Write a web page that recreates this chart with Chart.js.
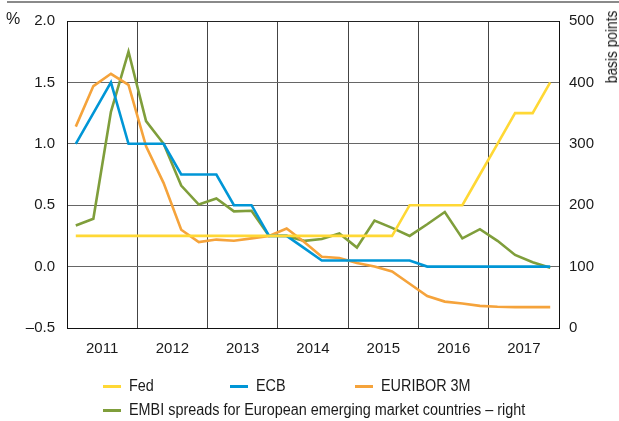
<!DOCTYPE html>
<html>
<head>
<meta charset="utf-8">
<script src="https://cdn.jsdelivr.net/npm/chart.js@4/dist/chart.umd.min.js"></script>
<style>
  html, body { margin: 0; padding: 0; background: #fff; }
  #wrap { position: relative; width: 619px; height: 421px; font-family: 'Liberation Sans Narrow', 'Arial Narrow', 'Liberation Sans', sans-serif; color: #1a1a1a; }
  #c { position: absolute; left: 0; top: 0; }
  #rule { position: absolute; left: 7px; right: 0; top: 1px; height: 2px; background: #8a8a8a; }
  #pct { position: absolute; left: 6px; top: 10px; font-size: 16px; }
  #bp { position: absolute; left: 612px; top: 47px; font-size: 16px; transform: translate(-50%, -50%) rotate(-90deg) scaleX(0.86); white-space: nowrap; }
  .lg { position: absolute; font-size: 16px; white-space: nowrap; display: flex; align-items: center; }
  .lg span.sw { display: inline-block; width: 18px; height: 3px; margin-right: 8px; flex: none; }
  .lg span.tx { display: inline-block; transform: scaleX(0.9); transform-origin: left center; }
</style>
</head>
<body>
<div id="wrap">
  <canvas id="c" width="619" height="421"></canvas>
  <div id="rule"></div>
  <div id="pct">%</div>
  <div id="bp">basis points</div>
</div>
<script>
// ---- data (quarterly, 2011 Q1 .. 2017 Q4) ----
const years = ['2011', '2012', '2013', '2014', '2015', '2016', '2017'];
const seriesNames = ['Fed', 'ECB', 'EURIBOR 3M', 'EMBI spreads for European emerging market countries – right'];
const fed = [0.25, 0.25, 0.25, 0.25, 0.25, 0.25, 0.25, 0.25, 0.25, 0.25, 0.25, 0.25, 0.25, 0.25, 0.25, 0.25, 0.25, 0.25, 0.25,
             0.5, 0.5, 0.5, 0.5, 0.75, 1.0, 1.25, 1.25, 1.5];
const ecb = [1.0, 1.25, 1.5, 1.0, 1.0, 1.0, 0.75, 0.75, 0.75, 0.5, 0.5, 0.25, 0.25, 0.15, 0.05, 0.05, 0.05, 0.05, 0.05, 0.05,
             0, 0, 0, 0, 0, 0, 0, 0];
const euribor = [1.14, 1.47, 1.57, 1.48, 0.98, 0.68, 0.30, 0.20, 0.22, 0.21, 0.23, 0.25, 0.31, 0.20, 0.08, 0.07, 0.03, 0.0,
                 -0.04, -0.14, -0.24, -0.285, -0.30, -0.32, -0.327, -0.33, -0.33, -0.33];
const embi = [167, 178, 352, 450, 337, 300, 232, 201, 211, 190, 191, 150, 150, 142, 145, 154, 131, 175, 163, 150, 169, 189,
              146, 161, 142, 119, 107, 98];
const leftTicks = [-0.5, 0, 0.5, 1.0, 1.5, 2.0];
const rightTicks = [0, 100, 200, 300, 400, 500];

const colors = ['#FFD835', '#0096D6', '#F5A33B', '#7F9E3B'];

const toXY = arr => arr.map((v, i) => ({ x: i + 0.5, y: v }));

Chart.defaults.font.family = "'Liberation Sans Narrow', 'Arial Narrow', 'Liberation Sans', sans-serif";
Chart.defaults.font.size = 15;
Chart.defaults.color = '#1a1a1a';

const htmlLegend = {
  id: 'htmlLegend',
  afterInit(chart) {
    const wrap = document.getElementById('wrap');
    const pos = [[103, 386], [230, 386], [355, 386], [103, 410]];
    chart.data.datasets.forEach((ds, i) => {
      const d = document.createElement('div');
      d.className = 'lg';
      d.style.left = pos[i][0] + 'px';
      d.style.top = (pos[i][1] - 10) + 'px';
      d.style.height = '20px';
      const sw = document.createElement('span');
      sw.className = 'sw';
      sw.style.background = ds.borderColor;
      d.appendChild(sw);
      const tx = document.createElement('span');
      tx.className = 'tx';
      tx.textContent = ds.label;
      d.appendChild(tx);
      wrap.appendChild(d);
    });
  }
};

new Chart(document.getElementById('c'), {
  type: 'line',
  data: {
    datasets: [
      { label: seriesNames[0], data: toXY(fed), borderColor: colors[0], yAxisID: 'y' },
      { label: seriesNames[1], data: toXY(ecb), borderColor: colors[1], yAxisID: 'y' },
      { label: seriesNames[2], data: toXY(euribor), borderColor: colors[2], yAxisID: 'y' },
      { label: seriesNames[3], data: toXY(embi), borderColor: colors[3], yAxisID: 'y2' }
    ]
  },
  options: {
    responsive: false,
    animation: false,
    devicePixelRatio: 1,
    elements: { line: { borderWidth: 2.6, tension: 0, borderJoinStyle: 'miter' }, point: { radius: 0 } },
    layout: { padding: { top: 18, left: 0, right: 0, bottom: 0 } },
    plugins: { legend: { display: false }, tooltip: { enabled: false } },
    scales: {
      x: {
        type: 'linear', min: 0, max: years.length * 4,
        afterBuildTicks(scale) {
          const t = [];
          for (let v = 0; v <= years.length * 4; v += 2) t.push({ value: v });
          scale.ticks = t;
        },
        afterFit(scale) { scale.height = 93; },
        ticks: {
          autoSkip: false, maxRotation: 0, padding: 12,
          callback(v) { return (v % 4 === 2) ? years[(v - 2) / 4] : ''; }
        },
        grid: {
          drawTicks: false,
          color(ctx) { return (ctx.tick && ctx.tick.value % 4 === 0) ? '#444' : 'rgba(0,0,0,0)'; },
          lineWidth: 1
        },
        border: { display: true, color: '#111', width: 1 }
      },
      y: {
        position: 'left', min: -0.5, max: 2.0,
        afterBuildTicks(scale) { scale.ticks = leftTicks.map(v => ({ value: v })); },
        afterFit(scale) { scale.width = 67; },
        ticks: {
          padding: 12,
          callback(v) { return v < 0 ? '–' + Math.abs(v).toFixed(1) : v.toFixed(1); }
        },
        grid: {
          drawTicks: false,
          color(ctx) { return (ctx.tick && ctx.tick.value === 2.0) ? '#222' : '#666'; },
          lineWidth: 1
        },
        border: { display: true, color: '#111', width: 1 }
      },
      y2: {
        position: 'right', min: 0, max: 500,
        afterBuildTicks(scale) { scale.ticks = rightTicks.map(v => ({ value: v })); },
        afterFit(scale) { scale.width = 60; },
        ticks: { padding: 10, callback(v) { return String(v); } },
        grid: { display: false, drawTicks: false },
        border: { display: true, color: '#111', width: 1 }
      }
    }
  },
  plugins: [htmlLegend]
});
</script>
</body>
</html>
